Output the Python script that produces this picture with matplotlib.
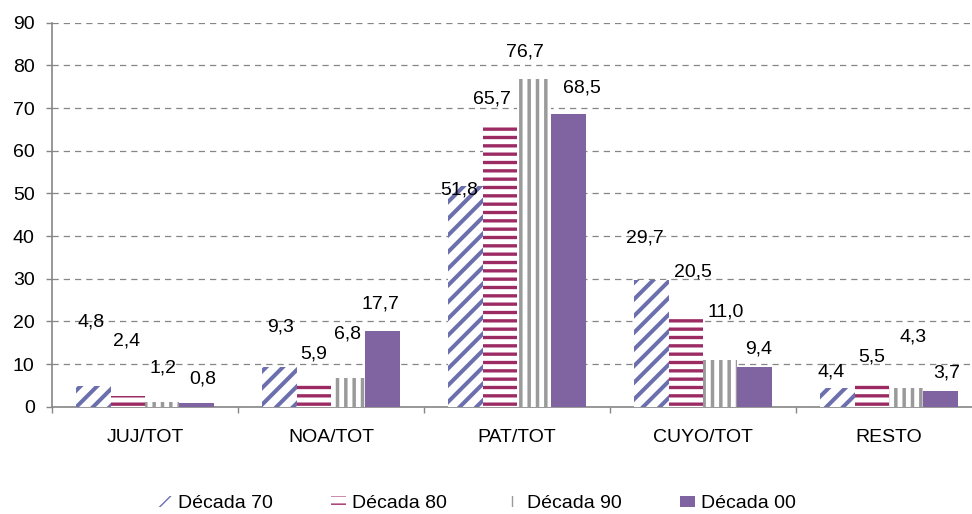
import numpy as np
import matplotlib.pyplot as plt

plt.rcParams["font.family"] = ["Liberation Sans", "DejaVu Sans"]
plt.rcParams["font.size"] = 14

categories = ["JUJ/TOT", "NOA/TOT", "PAT/TOT", "CUYO/TOT", "RESTO"]
series_names = ["Década 70", "Década 80", "Década 90", "Década 00"]
dec70 = [4.8, 9.3, 51.8, 29.7, 4.4]
dec80 = [2.4, 5.9, 65.7, 20.5, 5.5]
dec90 = [1.2, 6.8, 76.7, 11.0, 4.3]
dec00 = [0.8, 17.7, 68.5, 9.4, 3.7]
y_ticks = list(range(0, 100, 10))

# label placement (pixels, relative to bar top centre) -- labels in the
# original were nudged by hand
label_dx = [[-2, 1, -6, -7, -6],
            [-1.5, 0, -8, 7, 0],
            [1, -1, -9, 6, 7],
            [6, -2, 13, 4, 6]]
label_dy = [[64.5, 40.3, -4.3, 42.3, 15.6],
            [55.5, 27.5, 27.1, 47.5, 26.5],
            [33.6, 43.7, 27.7, 47.5, 51.7],
            [24.3, 27.2, 26.1, 17.3, 18.2]]

styles = [
    dict(facecolor="white", edgecolor="#6B6FAE", hatch="//", hlw=2.9),
    dict(facecolor="white", edgecolor="#9C2B64", hatch="--", hlw=2.4),
    dict(facecolor="white", edgecolor="#9A9A9A", hatch="||", hlw=2.5),
    dict(facecolor="#8064A2", edgecolor="#8064A2", hatch=None, hlw=1.0),
]


def fmt(v):
    return f"{v:.1f}".replace(".", ",")


def main():
    fig = plt.figure(figsize=(9.72, 5.14), dpi=100)
    ax = fig.add_axes([52 / 972, 107.3 / 514, 930 / 972, 384 / 514])

    x = np.arange(len(categories))
    width = 0.1845
    all_series = [dec70, dec80, dec90, dec00]

    for k, (vals, st) in enumerate(zip(all_series, styles)):
        with plt.rc_context({"hatch.linewidth": st["hlw"]}):
            bars = ax.bar(x + (k - 1.5) * width, vals, width,
                          facecolor=st["facecolor"], edgecolor=st["edgecolor"],
                          hatch=st["hatch"], linewidth=0,
                          label=series_names[k], zorder=3)
        for b, v, dx, dy in zip(bars, vals, label_dx[k], label_dy[k]):
            ax.annotate(fmt(v), (b.get_x() + b.get_width() / 2, v),
                        xytext=(dx, dy), textcoords="offset pixels",
                        ha="center", va="center", fontsize=14, zorder=5)

    ax.set_xlim(-0.5, len(categories) - 0.5)
    ax.set_ylim(0, 90)
    ax.set_yticks(y_ticks)
    ax.set_xticks(x)
    ax.set_xticklabels(categories)
    ax.set_xticks(np.arange(len(categories) + 1) - 0.5, minor=True)

    ax.tick_params(axis="x", which="major", length=0, pad=16)
    ax.tick_params(axis="x", which="minor", length=4.5, width=1,
                   color="#868686", direction="out")
    ax.tick_params(axis="y", length=4.5, width=1, color="#868686",
                   direction="out", pad=8)

    ax.yaxis.grid(True, color="#868686", linestyle=(0, (5, 4)),
                  linewidth=0.9, zorder=0)
    ax.set_axisbelow(True)
    for s in ["top", "right"]:
        ax.spines[s].set_visible(False)
    for s in ["left", "bottom"]:
        ax.spines[s].set_color("#868686")
        ax.spines[s].set_linewidth(1.2)

    fig.legend(loc="center", bbox_to_anchor=(0.49, 10 / 514), ncol=4,
               frameon=False, handlelength=0.77, handleheight=0.46,
               handletextpad=0.31, columnspacing=3.0, fontsize=14)

    fig.savefig("out.png", dpi=100)


if __name__ == "__main__":
    main()
